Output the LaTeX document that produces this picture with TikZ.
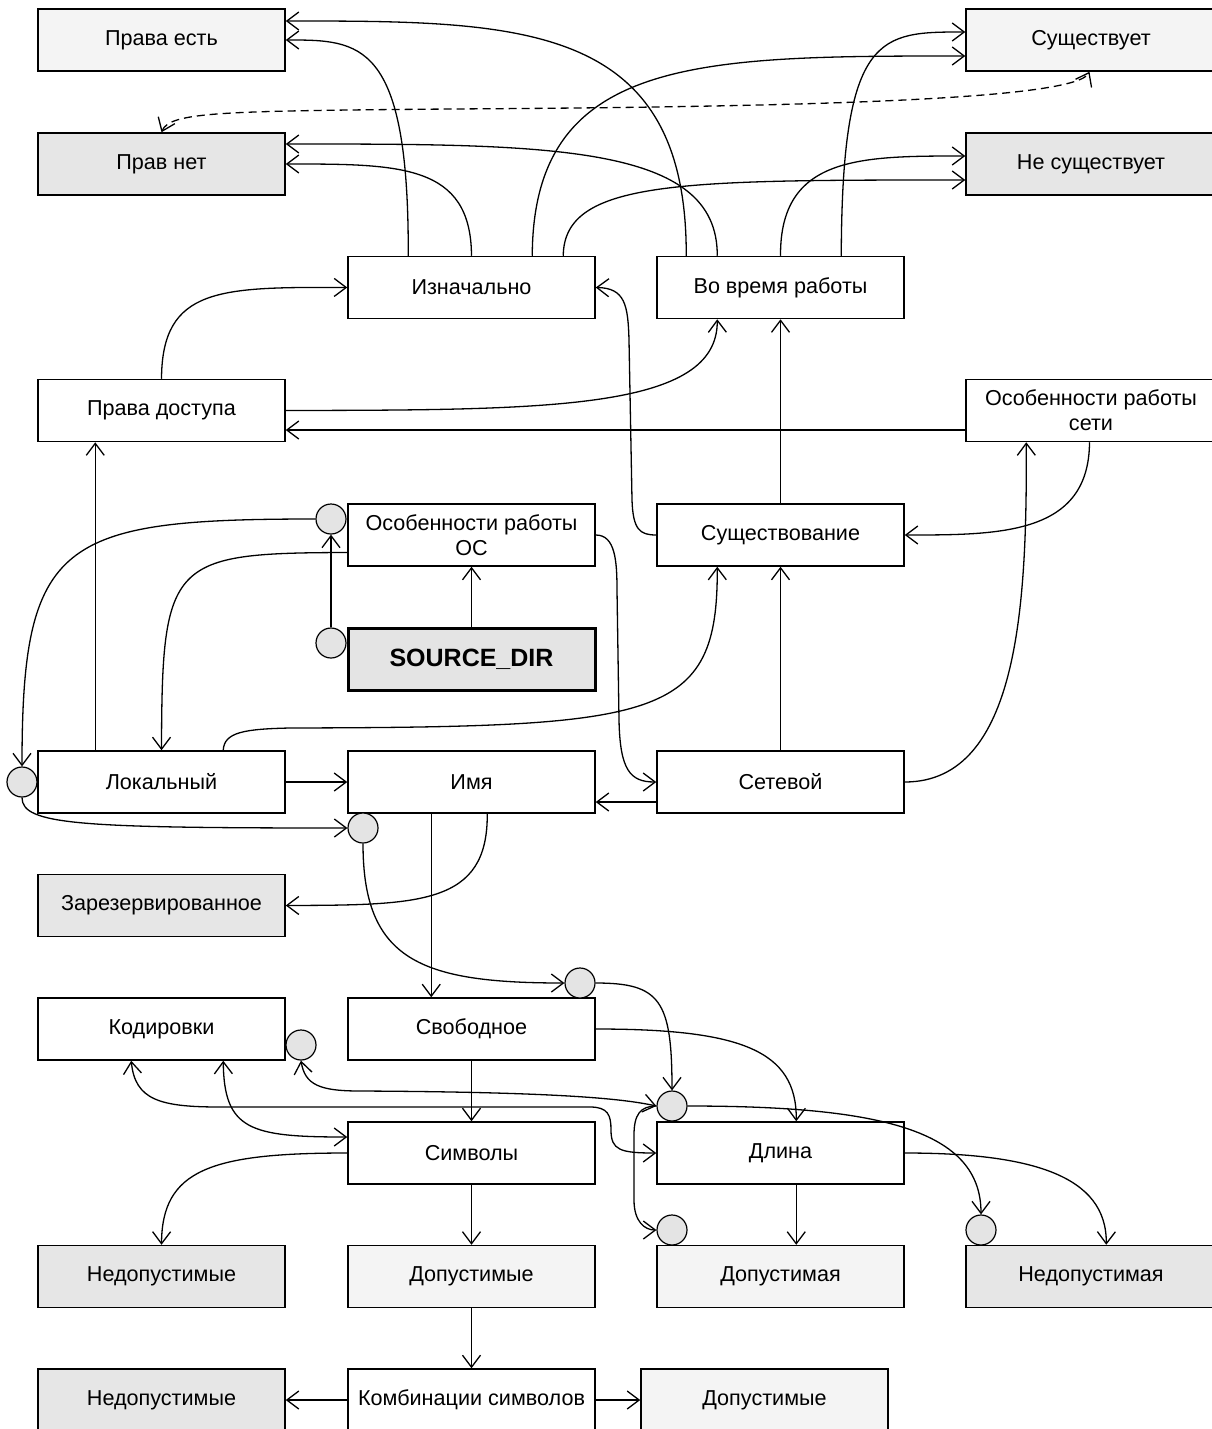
\documentclass[tikz,border=0pt]{standalone}
\usepackage{fontspec}
\setmainfont{Liberation Sans}
\usetikzlibrary{arrows.meta,calc}
\definecolor{okfill}{HTML}{F4F4F4}
\definecolor{badfill}{HTML}{E6E6E6}
\definecolor{dotfill}{HTML}{E4E4E4}
\begin{document}
\begin{tikzpicture}[x=0.5pt,y=-0.5pt,
  >={Straight Barb[length=6pt,width=9pt]},
  box/.style={draw, line width=0.75pt, minimum width=123.5pt, minimum height=31pt, inner sep=0pt, align=center, fill=white, font=\fontsize{10.8}{12.6}\selectfont},
  okbox/.style={box, fill=okfill},
  badbox/.style={box, fill=badfill},
  edgebox/.style={minimum width=125pt},
  srcbox/.style={box, line width=1.5pt, fill=dotfill, font=\bfseries\fontsize{12.5}{14}\selectfont},
  dot/.style={circle, draw, line width=0.6pt, fill=dotfill, minimum size=15pt, inner sep=0pt},
  conn/.style={line width=0.65pt, ->},
  conn2/.style={line width=0.65pt, <->},
  connd/.style={line width=0.65pt, <->, dash pattern=on 4pt off 2.5pt},
]
\useasboundingbox (0,0) rectangle (1211,1429);
% boxes
\node[okbox]  (pe)    at (161.5,40)   {Права есть};
\node[okbox,edgebox]  (sus)   at (1091,40)  {Существует};
\node[badbox] (pn)    at (161.5,164)  {Прав нет};
\node[badbox,edgebox] (nesus) at (1091,164) {Не существует};
\node[box]    (izn)   at (471.5,287.5) {Изначально};
\node[box]    (vvr)   at (780.5,287.5) {Во время работы};
\node[box]    (pd)    at (161.5,410.5) {Права доступа};
\node[box,edgebox]    (osset) at (1091,410.5) {Особенности работы\\сети};
\node[box]    (osos)  at (471.5,535)  {Особенности работы\\ОС};
\node[box]    (susch) at (780.5,535)  {Существование};
\node[srcbox] (src)   at (471.5,659)  {SOURCE\_DIR};
\node[box]    (lok)   at (161.5,782)  {Локальный};
\node[box]    (imya)  at (471.5,782)  {Имя};
\node[box]    (set)   at (780.5,782)  {Сетевой};
\node[badbox] (zar)   at (161.5,905.5) {Зарезервированное};
\node[box]    (kod)   at (161.5,1029) {Кодировки};
\node[box]    (svob)  at (471.5,1029) {Свободное};
\node[box]    (sim)   at (471.5,1153) {Символы};
\node[box]    (dl)    at (780.5,1153) {Длина};
\node[badbox] (nedop1) at (161.5,1276.5) {Недопустимые};
\node[okbox]  (dop1)  at (471.5,1276.5) {Допустимые};
\node[okbox]  (dopm)  at (780.5,1276.5) {Допустимая};
\node[badbox,edgebox] (nedopm) at (1091,1276.5) {Недопустимая};
\node[badbox] (nedop2) at (161.5,1400) {Недопустимые};
\node[box]    (komb)  at (471.5,1400) {Комбинации символов};
\node[okbox]  (dop2)  at (764.5,1400) {Допустимые};
% circles
\node[dot] (c1) at (331,519) {};
\node[dot] (c2) at (331,643) {};
\node[dot] (c3) at (22,782) {};
\node[dot] (c4) at (363,828) {};
\node[dot] (c5) at (580,983) {};
\node[dot] (c6) at (301,1045) {};
\node[dot] (c7) at (672,1106) {};
\node[dot] (c8) at (672,1230) {};
\node[dot] (c9) at (981,1230) {};
% top connectors
\draw[conn] ($(izn.north west)+(61,0)$) .. controls (409,40) and (360,40) .. (pe.east);
\draw[conn] (izn.north) .. controls (471,164) and (400,164) .. (pn.east);
\draw[conn] ($(vvr.north west)+(30,0)$) .. controls (687,21) and (520,21) .. ($(pe.east)+(0,-19)$);
\draw[conn] ($(vvr.north west)+(61,0)$) .. controls (718,144) and (550,144) .. ($(pn.east)+(0,-20)$);
\draw[conn] ($(izn.north west)+(185,0)$) .. controls (533,56) and (700,56) .. ($(sus.west)+(0,16)$);
\draw[conn] ($(izn.north west)+(216,0)$) .. controls (564,180) and (680,180) .. ($(nesus.west)+(0,16)$);
\draw[conn] (vvr.north) .. controls (780,156) and (860,156) .. ($(nesus.west)+(0,-8)$);
\draw[conn] ($(vvr.north west)+(185,0)$) .. controls (842,32) and (880,32) .. ($(sus.west)+(0,-8)$);
\draw[connd] (pn.north) .. controls (170,112) and (220,111) .. (450,109) .. controls (800,107) and (1075,100) .. ($(sus.south)+(-1.5,0)$);
% middle
\draw[conn] (pd.north) .. controls (162,287) and (220,287) .. (izn.west);
\draw[conn] (pd.east) .. controls (550,410) and (718,410) .. ($(vvr.south west)+(61,0)$);
\draw[conn] ($(osset.west)+(0,19.5)$) -- ($(pd.east)+(0,19.5)$);
\draw[conn] (susch.north) -- (vvr.south);
\draw[conn] (susch.west) .. controls (640,535) and (633,530) .. (632,500) -- (629,340) .. controls (628,305) and (625,288) .. (izn.east);
\draw[conn] ($(osset.south)+(-1.5,0)$) .. controls (1089,535) and (1000,535) .. (susch.east);
\draw[conn] (set.east) .. controls (1020,782) and (1027,600) .. ($(osset.south west)+(61,0)$);
\draw[conn] (set.north) -- (susch.south);
\draw[conn] ($(lok.north west)+(186,0)$) .. controls (224,732) and (245,729) .. (290,728) .. controls (660,727) and (718,720) .. ($(susch.south west)+(61,0)$);
\draw[conn] (osos.east) .. controls (615,535) and (617,560) .. (617,590) -- (619,720) .. controls (620,770) and (630,782) .. (set.west);
\draw[conn] ($(set.west)+(0,20)$) -- ($(imya.east)+(0,20)$);
\draw[conn] (lok.east) -- (imya.west);
\draw[conn] ($(lok.north west)+(58,0)$) -- ($(pd.south west)+(58,0)$);
\draw[conn] (src.north) -- (osos.south);
\draw[conn] (c2.north) -- (c1.south);
\draw[conn] (c1.west) .. controls (60,519) and (22,540) .. (c3.north);
\draw[conn] ($(osos.west)+(0,17.5)$) .. controls (170,553) and (162,560) .. (lok.north);
\draw[conn] (c3.south) .. controls (22,825) and (80,828) .. (c4.west);
\draw[conn] (c4.south) .. controls (363,960) and (420,983) .. (c5.west);
\draw[conn] ($(imya.south west)+(84,0)$) -- ($(svob.north west)+(84,0)$);
\draw[conn] ($(imya.south west)+(140,0)$) .. controls (488,905) and (420,905) .. (zar.east);
% lower
\draw[conn] (c5.east) .. controls (660,983) and (672,1000) .. (c7.north);
\draw[conn] (svob.east) .. controls (740,1029) and (797,1050) .. ($(dl.north west)+(140,0)$);
\draw[conn] (svob.south) -- (sim.north);
\draw[conn2] (c6.south) .. controls (305,1085) and (320,1091) .. (360,1091) .. controls (550,1092) and (620,1098) .. (c7.west);
\draw[conn2] ($(kod.south west)+(94,0)$) .. controls (135,1100) and (160,1107) .. (220,1107) -- (590,1107) .. controls (608,1107) and (611,1115) .. (611,1130) .. controls (611,1150) and (620,1153) .. (dl.west);
\draw[conn2] ($(kod.south west)+(186,0)$) .. controls (224,1130) and (250,1137) .. ($(sim.west)+(0,-16)$);
\draw[conn] (sim.west) .. controls (210,1153) and (162,1170) .. (nedop1.north);
\draw[conn] (sim.south) -- (dop1.north);
\draw[conn] (dop1.south) -- (komb.north);
\draw[conn] (komb.west) -- (nedop2.east);
\draw[conn] (komb.east) -- (dop2.west);
\draw[conn] (c7.east) .. controls (880,1106) and (981,1130) .. (c9.north);
\draw[conn] (dl.east) .. controls (1030,1153) and (1107,1175) .. ($(nedopm.north west)+(141,0)$);
\draw[conn] ($(dl.south west)+(140,0)$) -- ($(dopm.north west)+(140,0)$);
\draw[conn] (c7.west) .. controls (640,1106) and (634,1115) .. (634,1135) -- (634,1200) .. controls (634,1222) and (645,1230) .. (c8.west);
\end{tikzpicture}
\end{document}
